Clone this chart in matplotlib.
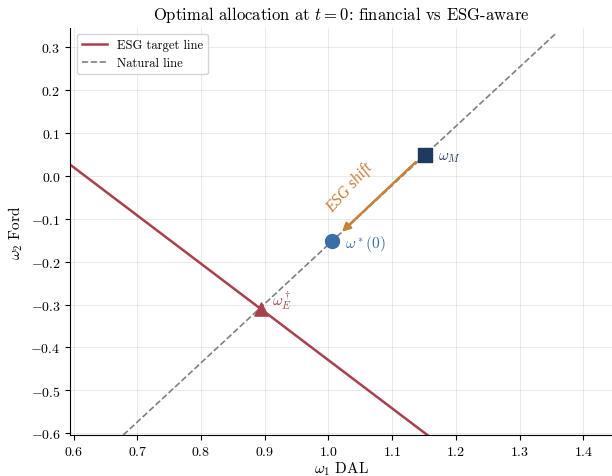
import numpy as np
import matplotlib.pyplot as plt

plt.rcParams['font.family'] = 'serif'
plt.rcParams['font.serif'] = ['cmr10', 'DejaVu Serif']
plt.rcParams['mathtext.fontset'] = 'cm'
plt.rcParams['axes.formatter.use_mathtext'] = True

# lines (omega_1, omega_2) end points
natural_x = [0.678, 1.358]
natural_y = [-0.604, 0.333]
esg_x = [0.59, 1.165]
esg_y = [0.031, -0.615]

# portfolios
w_M = (1.152, 0.048)
w_star = (1.006, -0.152)
w_E = (0.894, -0.311)

red = '#a8404d'
navy = '#1e3a5f'
blue = '#3a6ea5'
orange = '#c98038'

fig, ax = plt.subplots(figsize=(6.12, 4.77), dpi=100)
ax.plot(esg_x, esg_y, color=red, lw=1.8, label='ESG target line', zorder=2)
ax.plot(natural_x, natural_y, color='gray', lw=1.2, ls='--', label='Natural line', zorder=2)

ax.scatter(*w_M, marker='s', s=110, color=navy, zorder=4)
ax.scatter(*w_star, marker='o', s=100, color=blue, zorder=4)
ax.scatter(*w_E, marker='^', s=90, color=red, zorder=4)

ax.annotate('', xy=(w_star[0] + 0.012, w_star[1] + 0.017), xytext=(w_M[0] - 0.012, w_M[1] - 0.012),
            arrowprops=dict(arrowstyle='-|>', color=orange, lw=1.8, mutation_scale=12), zorder=3)
ax.text(1.033, -0.027, 'ESG shift', color=orange, fontsize=11.5, style='italic',
        family='Liberation Serif', rotation=48, ha='center', va='center')

ax.text(w_M[0] + 0.02, w_M[1] - 0.005, r'$\omega_M$', color=navy, fontsize=11, va='center')
ax.text(w_star[0] + 0.02, w_star[1] - 0.005, r'$\omega^*(0)$', color=blue, fontsize=11, va='center')
ax.text(w_E[0] + 0.017, w_E[1] + 0.022, r'$\omega_E^\dagger$', color=red, fontsize=11, va='center')

ax.set_xlim(0.595, 1.445)
ax.set_ylim(-0.605, 0.345)
ax.set_xticks(np.arange(0.6, 1.41, 0.1))
ax.set_yticks(np.arange(-0.6, 0.31, 0.1))
ax.grid(alpha=0.3, lw=0.6)
ax.spines['top'].set_visible(False)
ax.spines['right'].set_visible(False)

ax.set_xlabel(r'$\omega_1$ DAL', fontsize=11, labelpad=1)
ax.set_ylabel(r'$\omega_2$ Ford', fontsize=11)
ax.set_title(r'Optimal allocation at $t=0$: financial vs ESG-aware', fontsize=12)
ax.legend(loc='upper left', fontsize=9)

fig.subplots_adjust(left=0.115, right=1.0, bottom=0.085, top=0.94)
fig.savefig('out.png', dpi=100)
